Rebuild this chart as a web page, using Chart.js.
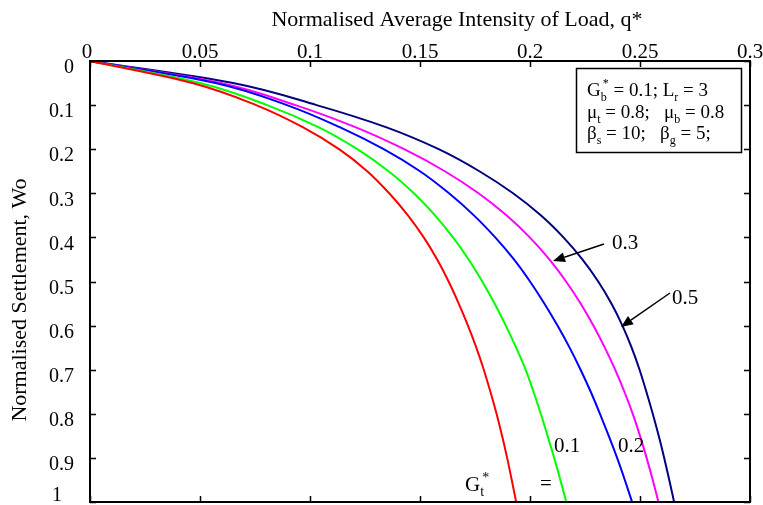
<!DOCTYPE html>
<html>
<head>
<meta charset="utf-8">
<script src="https://cdn.jsdelivr.net/npm/chart.js@4"></script>
<style>
  body { margin: 0; background: #fff; }
</style>
</head>
<body>
<canvas id="settlementChart" width="763" height="505"></canvas>
<script>
// settlement levels (y) and the load intensity (x)
var settlement = [0, 0.05, 0.1, 0.15, 0.2, 0.25, 0.3, 0.35, 0.4, 0.45, 0.5,
                  0.55, 0.6, 0.65, 0.7, 0.75, 0.8, 0.85, 0.9, 0.95, 1.0];
var qGt0  = [0, 0.0465, 0.0755, 0.0967, 0.1132, 0.126, 0.136, 0.1445, 0.1517, 0.1578, 0.163,
             0.1676, 0.1718, 0.1756, 0.179, 0.182, 0.1848, 0.1873, 0.1896, 0.1917, 0.1937];
var qGt01 = [0, 0.050, 0.0805, 0.1038, 0.1215, 0.1357, 0.1472, 0.1568, 0.165, 0.1721, 0.1783,
             0.1839, 0.189, 0.1937, 0.198, 0.2016, 0.2049, 0.208, 0.211, 0.2138, 0.2165];
var qGt02 = [0, 0.057, 0.0895, 0.1135, 0.1335, 0.150, 0.1632, 0.1745, 0.1842, 0.1927, 0.200,
             0.2065, 0.2125, 0.218, 0.223, 0.2276, 0.2318, 0.2358, 0.2396, 0.2431, 0.2464];
var qGt03 = [0, 0.0594, 0.0934, 0.1206, 0.1428, 0.1613, 0.1766, 0.1893, 0.1999, 0.2088, 0.2164,
             0.223, 0.2288, 0.234, 0.2387, 0.2429, 0.2467, 0.250, 0.253, 0.2558, 0.2584];
var qGt05 = [0, 0.065, 0.103, 0.1345, 0.1585, 0.177, 0.1923, 0.2049, 0.2152, 0.2238, 0.231,
             0.237, 0.242, 0.2462, 0.2498, 0.2529, 0.2558, 0.2585, 0.261, 0.2633, 0.2655];

var xTicks = [0, 0.05, 0.1, 0.15, 0.2, 0.25, 0.3];
var yTicks = [0, 0.1, 0.2, 0.3, 0.4, 0.5, 0.6, 0.7, 0.8, 0.9, 1];

var SERIF = '"Liberation Serif", "DejaVu Serif", serif';

function toPoints(q) {
    return settlement.map(function(w, i) { return { x: q[i], y: w }; });
}

function curve(label, q, color) {
    return {
        label: label,
        data: toPoints(q),
        borderColor: color,
        borderWidth: 2,
        pointRadius: 0,
        showLine: true,
        fill: false,
        cubicInterpolationMode: 'monotone'
    };
}

// draws text pieces with sub/superscripts
function richText(ctx, x, y, parts, size) {
    var small = Math.round(size * 0.65);
    var subStart = x;
    parts.forEach(function(p) {
        var txt = p[0], kind = p[1] || 'n';
        if (kind === 'n') {
            ctx.font = size + 'px ' + SERIF;
            ctx.fillText(txt, x, y);
            x += ctx.measureText(txt).width;
        } else if (kind === 'sub') {
            ctx.font = small + 'px ' + SERIF;
            subStart = x;
            ctx.fillText(txt, x, y + size * 0.25);
            x += ctx.measureText(txt).width;
        } else if (kind === 'supOver') {
            ctx.font = small + 'px ' + SERIF;
            ctx.fillText(txt, subStart + 2, y - size * 0.45);
            x = Math.max(x, subStart + 2 + ctx.measureText(txt).width);
        }
    });
    return x;
}

function arrow(ctx, x1, y1, x2, y2) {
    var ang = Math.atan2(y2 - y1, x2 - x1);
    var len = 12, wid = 5;
    var bx = x2 - len * Math.cos(ang), by = y2 - len * Math.sin(ang);
    ctx.beginPath();
    ctx.moveTo(x1, y1);
    ctx.lineTo(bx, by);
    ctx.lineWidth = 1.5;
    ctx.strokeStyle = '#000';
    ctx.stroke();
    ctx.beginPath();
    ctx.moveTo(x2, y2);
    ctx.lineTo(bx + wid * Math.sin(ang), by - wid * Math.cos(ang));
    ctx.lineTo(bx - wid * Math.sin(ang), by + wid * Math.cos(ang));
    ctx.closePath();
    ctx.fillStyle = '#000';
    ctx.fill();
}

var decorations = {
    id: 'decorations',
    afterDraw: function(chart) {
        var ctx = chart.ctx;
        var xs = chart.scales.x, ys = chart.scales.y;
        var a = chart.chartArea;
        ctx.save();

        // frame
        ctx.strokeStyle = '#000';
        ctx.lineWidth = 2;
        ctx.strokeRect(a.left, a.top, a.right - a.left, a.bottom - a.top);

        // inward tick marks
        ctx.lineWidth = 1.5;
        ctx.beginPath();
        xTicks.forEach(function(v) {
            var px = Math.round(xs.getPixelForValue(v)) + 0.5;
            ctx.moveTo(px, a.top); ctx.lineTo(px, a.top + 6);
            ctx.moveTo(px, a.bottom); ctx.lineTo(px, a.bottom - 6);
        });
        yTicks.forEach(function(v) {
            var py = Math.round(ys.getPixelForValue(v)) + 0.5;
            ctx.moveTo(a.left, py); ctx.lineTo(a.left + 6, py);
            ctx.moveTo(a.right, py); ctx.lineTo(a.right - 6, py);
        });
        ctx.stroke();

        // tick labels
        ctx.fillStyle = '#000';
        ctx.font = '21px ' + SERIF;
        ctx.textAlign = 'center';
        ctx.textBaseline = 'alphabetic';
        xTicks.forEach(function(v) {
            ctx.fillText(String(v), xs.getPixelForValue(v) - (v === 0 ? 3 : 0), 58);
        });
        ctx.font = '20px ' + SERIF;
        ctx.textAlign = 'right';
        ctx.textBaseline = 'middle';
        yTicks.forEach(function(v) {
            var py = Math.min(ys.getPixelForValue(v) + 7, 496);
            ctx.fillText(String(v), v === 1 ? 62 : 74, py);
        });

        // axis titles
        ctx.font = '22px ' + SERIF;
        ctx.textAlign = 'center';
        ctx.textBaseline = 'alphabetic';
        ctx.fillText('Normalised Average Intensity of Load, q*', 457, 26);
        ctx.save();
        ctx.translate(26, 300);
        ctx.rotate(-Math.PI / 2);
        ctx.fillText('Normalised Settlement, Wo', 0, 0);
        ctx.restore();

        // parameter box
        ctx.lineWidth = 1.5;
        ctx.strokeRect(576.5, 68.5, 165, 84);
        ctx.textAlign = 'left';
        var fs = 19;
        richText(ctx, 587, 96, [['G'], ['b', 'sub'], ['*', 'supOver'], [' = 0.1; L'], ['r', 'sub'], [' = 3']], fs);
        richText(ctx, 587, 118, [['\u03bc'], ['t', 'sub'], [' = 0.8;   \u03bc'], ['b', 'sub'], [' = 0.8']], fs);
        richText(ctx, 587, 139, [['\u03b2'], ['s', 'sub'], [' = 10;   \u03b2'], ['g', 'sub'], [' = 5;']], fs);

        // curve labels
        ctx.font = '21px ' + SERIF;
        ctx.fillText('0.3', 612, 249);
        ctx.fillText('0.5', 672, 304);
        ctx.fillText('0.1', 554, 452);
        ctx.fillText('0.2', 618, 452);
        richText(ctx, 465, 491, [['G'], ['t', 'sub'], ['*', 'supOver']], 21);
        ctx.font = '21px ' + SERIF;
        ctx.fillText('=', 540, 490);

        arrow(ctx, 604, 244, 553, 261);
        arrow(ctx, 670, 293, 621, 327);

        ctx.restore();
    }
};

window.onload = function() {
    var ctx = document.getElementById('settlementChart').getContext('2d');
    new Chart(ctx, {
        type: 'scatter',
        data: {
            datasets: [
                curve('Gt* = 0', qGt0, '#ff0000'),
                curve('Gt* = 0.1', qGt01, '#00ff00'),
                curve('Gt* = 0.2', qGt02, '#0000ff'),
                curve('Gt* = 0.3', qGt03, '#ff00ff'),
                curve('Gt* = 0.5', qGt05, '#000080')
            ]
        },
        options: {
            responsive: false,
            animation: false,
            indexAxis: 'y',
            layout: { padding: { left: 0, top: 0, right: 13, bottom: 3 } },
            plugins: {
                legend: { display: false },
                tooltip: { enabled: false }
            },
            scales: {
                x: {
                    type: 'linear',
                    position: 'top',
                    min: 0,
                    max: 0.3,
                    grid: { display: false },
                    border: { display: false },
                    ticks: { display: false },
                    afterFit: function(scale) { scale.height = 61; }
                },
                y: {
                    type: 'linear',
                    reverse: true,
                    min: 0,
                    max: 1,
                    grid: { display: false },
                    border: { display: false },
                    ticks: { display: false },
                    afterFit: function(scale) { scale.width = 90; }
                }
            }
        },
        plugins: [decorations]
    });
};
</script>
</body>
</html>
